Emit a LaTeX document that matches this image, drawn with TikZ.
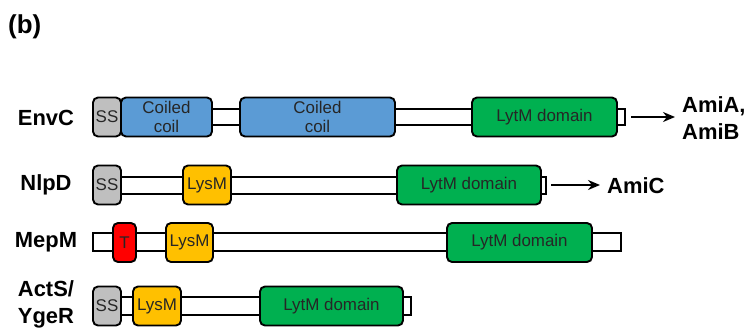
\documentclass[tikz,border=0pt]{standalone}
\usepackage{fontspec}
\setmainfont{Liberation Sans}
\usetikzlibrary{arrows.meta, backgrounds}
\definecolor{SignalGray}{RGB}{191, 191, 191}
\definecolor{CoilBlue}{RGB}{91, 155, 213}
\definecolor{LytMGreen}{RGB}{0, 176, 80}
\definecolor{LysMYellow}{RGB}{255, 192, 0}
\definecolor{TmRed}{RGB}{255, 0, 0}

\begin{document}
\begin{tikzpicture}[
    x=1bp, y=-1bp,
    dombox/.style={draw=black, line width=1.9bp, rounded corners=5bp, minimum height=39bp, inner sep=0pt, align=center, text=black!85, font=\fontsize{17}{19}\selectfont},
    ss/.style={dombox, fill=SignalGray, minimum width=28bp},
    lysm/.style={dombox, fill=LysMYellow, minimum width=48bp},
    lytm/.style={dombox, fill=LytMGreen, minimum width=145bp},
    coil/.style={dombox, fill=CoilBlue},
    tm/.style={dombox, fill=TmRed, minimum width=23bp},
    backbone/.style={draw=black, line width=1.6bp, fill=white},
    protein/.style={inner sep=0pt, align=center, font=\fontsize{22}{27}\selectfont\bfseries},
    arrow/.style={-{Stealth[length=12bp, width=10bp]}, line width=2.4bp}
]
    \useasboundingbox (0,0) rectangle (753,331);
    \node[anchor=west, inner sep=0pt, font=\fontsize{26}{30}\selectfont\bfseries] (panel) at (8,27) {(b)};

    % EnvC
    \node[protein] (envc) at (46,118) {EnvC};
    \node[ss] (envcSS) at (107,117) {SS};
    \node[coil, minimum width=91bp] (envcCoilA) at (166.5,117) {Coiled\\coil};
    \node[coil, minimum width=155bp] (envcCoilB) at (317.5,117) {Coiled\\coil};
    \node[lytm] (envcLytM) at (544.5,117) {LytM domain};
    \coordinate (envcEnd) at (625,117);
    \node[protein, anchor=west, align=left] (amiab) at (682,118) {AmiA,\\AmiB};

    % NlpD
    \node[protein] (nlpd) at (46,185) {NlpD};
    \node[ss] (nlpdSS) at (107,185) {SS};
    \node[lysm] (nlpdLysM) at (207,185) {LysM};
    \node[lytm, minimum width=144bp] (nlpdLytM) at (469,185) {LytM domain};
    \coordinate (nlpdEnd) at (546,185);
    \node[protein, anchor=west] (amic) at (607,186) {AmiC};

    % MepM
    \node[protein] (mepm) at (46,242) {MepM};
    \node[tm] (mepmT) at (124.5,242.5) {T};
    \node[lysm, minimum width=47bp] (mepmLysM) at (189.5,242.5) {LysM};
    \node[lytm] (mepmLytM) at (519.5,242.5) {LytM domain};

    % ActS/YgeR
    \node[protein] (acts) at (46,304) {ActS/\\YgeR};
    \node[ss] (actsSS) at (107,306) {SS};
    \node[lysm] (actsLysM) at (157,306) {LysM};
    \node[lytm, minimum width=143bp] (actsLytM) at (331.5,306) {LytM domain};

    \begin{scope}[on background layer]
        \draw[backbone] (envcSS.center |- 0,109) rectangle (envcEnd |- 0,125);
        \draw[backbone] (nlpdSS.center |- 0,177) rectangle (nlpdEnd |- 0,194);
        \draw[backbone] (93,233) rectangle (621,251);
        \draw[backbone] (actsSS.center |- 0,297) rectangle (411,315);
    \end{scope}

    \draw[arrow, shorten <=6bp, shorten >=7bp] (envcEnd) -- (envcEnd -| amiab.west);
    \draw[arrow, shorten <=5bp, shorten >=7bp] (nlpdEnd) -- (nlpdEnd -| amic.west);
\end{tikzpicture}
\end{document}
